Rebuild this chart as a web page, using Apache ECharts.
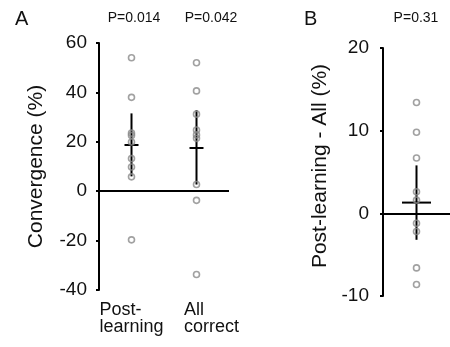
<!DOCTYPE html>
<html>
<head>
<meta charset="utf-8">
<script src="https://cdn.jsdelivr.net/npm/echarts@6/dist/echarts.min.js"></script>
<style>
  html, body { margin: 0; padding: 0; background: #fff; }
  #chart { width: 450px; height: 347px; }
</style>
</head>
<body>
<div id="chart"></div>
<script>
// panel A: convergence per condition
const groupsA = ['Post-\nlearning', 'All\ncorrect']
const postLearning = [54, 38, 23.5, 22.6, 19.9, 13.2, 9.8, 5.8, -19.7]
const allCorrect = [52, 40.6, 31.2, 24.8, 22.8, 21.4, 2.7, -3.7, -33.7]
const meanA = [18.7, 17.5]
const lowA = [6.0, 2.7]
const highA = [31.5, 32.8]
const pValuesA = ['P=0.014', 'P=0.042']

// panel B: difference post-learning minus all
const groupsB = ['diff']
const diffValues = [13.4, 9.8, 6.7, 2.6, 1.6, -1.2, -2.2, -6.6, -8.6]
const meanB = [1.3]
const lowB = [-3.2]
const highB = [5.8]
const pValueB = 'P=0.31'

const ticksA = { min: -40, max: 60, interval: 20 }
const ticksB = { min: -10, max: 20, interval: 10 }

const font = 'Liberation Sans, Arial, Helvetica, sans-serif'
const dotColor = '#8a8a8a'
// 第二个分类标签在参考图中偏右
const labelShift = [0, 30]

const chart = echarts.init(document.getElementById('chart'))

// 误差线 + 均值横线
const errorBar = (halfWidth) => (params, api) => {
  const i = api.value(0)
  const mid = api.coord([i, api.value(1)])
  const lo = api.coord([i, api.value(2)])
  const hi = api.coord([i, api.value(3)])
  const style = { stroke: '#000', lineWidth: 2 }
  return {
    type: 'group',
    children: [
      { type: 'line', shape: { x1: lo[0], y1: lo[1], x2: hi[0], y2: hi[1] }, style },
      { type: 'line', shape: { x1: mid[0] - halfWidth, y1: mid[1], x2: mid[0] + halfWidth, y2: mid[1] }, style }
    ]
  }
}

const yAxisBase = (t, nameText) => ({
  type: 'value',
  min: t.min,
  max: t.max,
  interval: t.interval,
  name: nameText,
  nameLocation: 'middle',
  nameGap: 52,
  nameTextStyle: { fontSize: 21, color: '#111', fontFamily: font },
  splitLine: { show: false },
  axisLine: { show: true, lineStyle: { color: '#000', width: 2 } },
  axisTick: { show: true, inside: false, length: 3, lineStyle: { color: '#000', width: 2 } },
  axisLabel: { fontSize: 19, color: '#111', fontFamily: font, margin: 12 }
})

const zeroLine = {
  silent: true,
  symbol: 'none',
  label: { show: false },
  lineStyle: { color: '#000', width: 2, type: 'solid' },
  data: [{ yAxis: 0 }]
}

const scatterStyle = {
  symbol: 'circle',
  symbolSize: 6,
  itemStyle: { color: 'rgba(255,255,255,0)', borderColor: dotColor, borderWidth: 1.6 },
  z: 5
}

const option = {
  animation: false,
  backgroundColor: '#fff',
  grid: [
    { left: 99, top: 43, width: 130, height: 247 },
    { left: 383, top: 48, width: 72, height: 248 }
  ],
  xAxis: [
    {
      type: 'category', gridIndex: 0, data: groupsA,
      axisLine: { show: false, onZero: false }, axisTick: { show: false },
      axisLabel: {
        margin: 12,
        interval: 0,
        hideOverlap: false,
        formatter: (v, idx) => v.split('\n')
          .map(s => (labelShift[idx] ? '{sp| }' : '') + '{t|' + s + '}')
          .join('\n'),
        rich: {
          t: { fontSize: 18, lineHeight: 17, color: '#111', fontFamily: font, align: 'left' },
          sp: { width: labelShift[1], fontSize: 18, lineHeight: 17, align: 'left' }
        }
      }
    },
    {
      type: 'category', gridIndex: 1, data: groupsB,
      axisLine: { show: false, onZero: false }, axisTick: { show: false }, axisLabel: { show: false }
    }
  ],
  yAxis: [
    Object.assign(yAxisBase(ticksA, 'Convergence (%)'), { gridIndex: 0 }),
    Object.assign(yAxisBase(ticksB, 'Post-learning - All (%)'), {
      gridIndex: 1,
      nameTextStyle: { fontSize: 21, color: '#111', fontFamily: font, padding: [0, 0, 0, 12] },
      axisLabel: { fontSize: 19, color: '#111', fontFamily: font, margin: 14 }
    })
  ],
  series: [
    {
      type: 'custom', xAxisIndex: 0, yAxisIndex: 0,
      renderItem: errorBar(7),
      data: meanA.map((m, i) => [i, m, lowA[i], highA[i]]),
      markLine: zeroLine,
      z: 3
    },
    Object.assign({
      type: 'scatter', xAxisIndex: 0, yAxisIndex: 0,
      data: postLearning.map(v => [0, v])
    }, scatterStyle),
    Object.assign({
      type: 'scatter', xAxisIndex: 0, yAxisIndex: 0,
      data: allCorrect.map(v => [1, v])
    }, scatterStyle),
    {
      type: 'custom', xAxisIndex: 1, yAxisIndex: 1,
      renderItem: errorBar(14.5),
      data: meanB.map((m, i) => [i, m, lowB[i], highB[i]]),
      markLine: zeroLine,
      z: 3
    },
    Object.assign({
      type: 'scatter', xAxisIndex: 1, yAxisIndex: 1,
      data: diffValues.map(v => [0, v])
    }, scatterStyle)
  ],
  graphic: [
    { type: 'text', left: 15, top: 9, style: { text: 'A', fontSize: 20, fill: '#111', fontFamily: font } },
    { type: 'text', left: 304, top: 9, style: { text: 'B', fontSize: 20, fill: '#111', fontFamily: font } },
    { type: 'text', x: 134, y: 18, style: { text: pValuesA[0], fontSize: 14, fill: '#111', fontFamily: font, align: 'center', verticalAlign: 'middle' } },
    { type: 'text', x: 211, y: 18, style: { text: pValuesA[1], fontSize: 14, fill: '#111', fontFamily: font, align: 'center', verticalAlign: 'middle' } },
    { type: 'text', x: 416, y: 18, style: { text: pValueB, fontSize: 14, fill: '#111', fontFamily: font, align: 'center', verticalAlign: 'middle' } }
  ]
}

chart.setOption(option)
</script>
</body>
</html>
